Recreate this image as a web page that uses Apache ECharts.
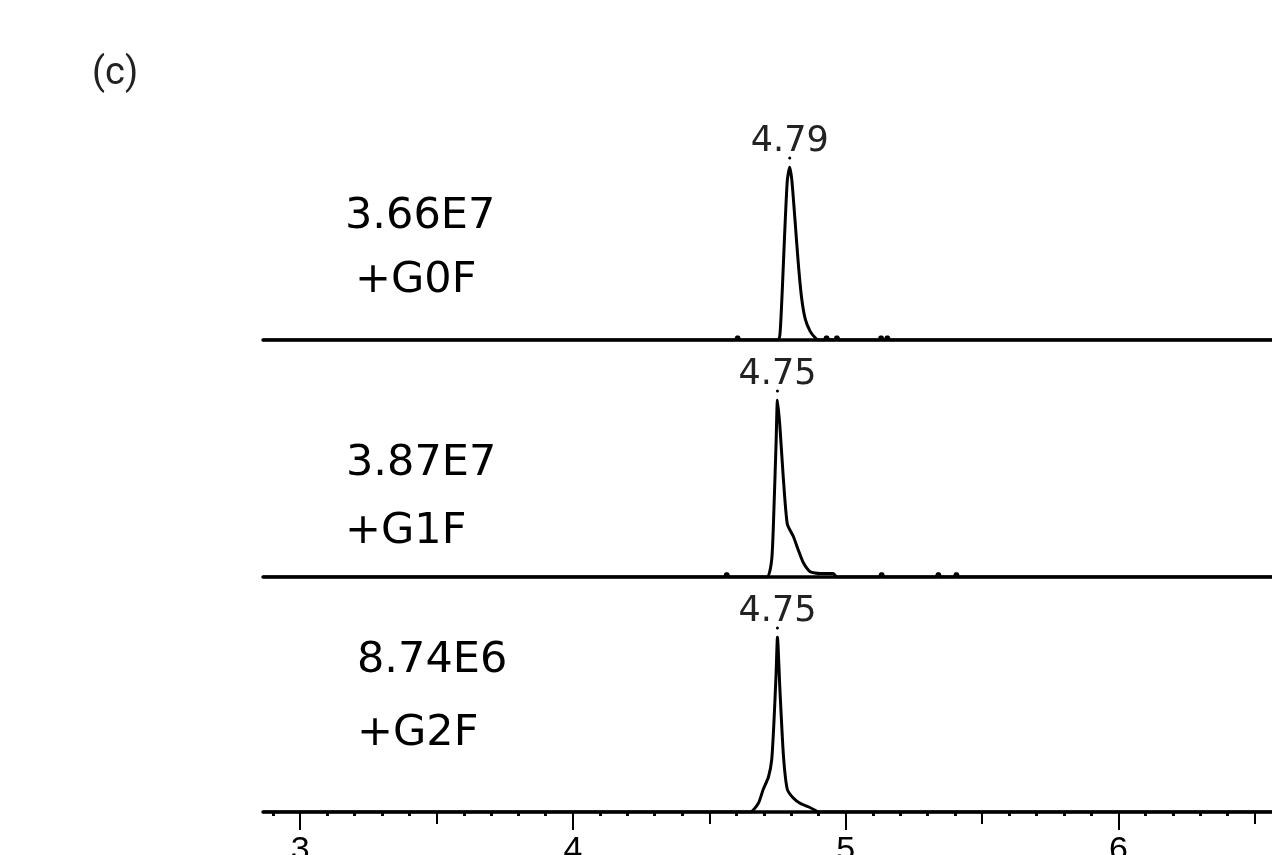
<!DOCTYPE html>
<html>
<head>
<meta charset="utf-8">
<script src="https://cdn.jsdelivr.net/npm/echarts@6/dist/echarts.min.js"></script>
<style>
  html, body { margin: 0; padding: 0; background: #fff; }
  #chart { width: 1272px; height: 855px; }
</style>
</head>
<body>
<div id="chart"></div>
<script>
// retention time (min) vs relative intensity (%) for each extracted ion trace
var g0f = [[2.864,0],[4.596,0],[4.600,1.8],[4.608,1.8],[4.612,0],[4.753,0],[4.760,5],[4.768,30],[4.776,60],[4.786,92],[4.795,100],[4.803,92],[4.814,70],[4.826,45],[4.838,25],[4.852,12],[4.870,5],[4.890,1],[4.900,0],[4.922,0],[4.926,1.8],[4.934,1.8],[4.938,0],[4.960,0],[4.964,1.8],[4.972,1.8],[4.976,0],[5.122,0],[5.126,1.8],[5.134,1.8],[5.138,0],[5.145,0],[5.149,1.8],[5.157,1.8],[5.161,0],[6.563,0]];
var g1f = [[2.864,0],[4.556,0],[4.560,1.8],[4.568,1.8],[4.572,0],[4.711,0],[4.729,10],[4.737,38],[4.745,76],[4.750,100],[4.759,85],[4.771,57],[4.786,30],[4.808,23],[4.827,15],[4.845,8],[4.870,3],[4.906,2],[4.954,2],[4.968,0],[5.124,0],[5.128,1.8],[5.136,1.8],[5.140,0],[5.332,0],[5.336,1.8],[5.344,1.8],[5.348,0],[5.398,0],[5.402,1.8],[5.410,1.8],[5.414,0],[6.563,0]];
var g2f = [[2.864,0],[4.650,0],[4.680,5],[4.698,13],[4.717,20],[4.729,30],[4.737,51],[4.745,79],[4.750,100],[4.759,70],[4.772,32],[4.786,13],[4.808,8],[4.833,5],[4.863,3],[4.888,1],[4.899,0],[6.563,0]];

var peakTimes = [4.795, 4.75, 4.75];
var peakLabels = ["4.79", "4.75", "4.75"];
var areas = ["3.66E7", "3.87E7", "8.74E6"];
var glycans = ["+G0F", "+G1F", "+G2F"];

var xLabelTicks = [3, 4, 5, 6];
var halfTicks = [3, 3.5, 4, 4.5, 5, 5.5, 6, 6.5];
var minorTicks = [2.9, 3.1, 3.2, 3.3, 3.4, 3.6, 3.7, 3.8, 3.9, 4.1, 4.2, 4.3, 4.4, 4.6, 4.7, 4.8, 4.9,
                  5.1, 5.2, 5.3, 5.4, 5.6, 5.7, 5.8, 5.9, 6.1, 6.2, 6.3, 6.4];

var xMin = 2.864, xMax = 6.563;
var traces = [g0f, g1f, g2f];

var chart = echarts.init(document.getElementById("chart"));

var grids = [
    { left: 263, right: 0, top: 167, height: 173, outerBoundsMode: "none" },
    { left: 263, right: 0, top: 400, height: 177, outerBoundsMode: "none" },
    { left: 263, right: 0, top: 637, height: 175, outerBoundsMode: "none" }
];

var xAxes = [];
var yAxes = [];
for (var i = 0; i < 3; i++) {
    xAxes.push({
        type: "value",
        gridIndex: i,
        min: xMin,
        max: xMax,
        axisLine: { show: true, onZero: false, lineStyle: { color: "#000", width: 3.5 } },
        axisTick: i === 2 ? { show: true, customValues: halfTicks, length: 12, lineStyle: { color: "#000", width: 2 } } : { show: false },
        axisLabel: { show: false },
        splitLine: { show: false }
    });
    yAxes.push({ type: "value", gridIndex: i, min: 0, max: 100, show: false });
}
// integer ticks with labels
xAxes.push({
    type: "value", gridIndex: 2, min: xMin, max: xMax, position: "bottom",
    axisLine: { show: false },
    axisTick: { show: true, customValues: xLabelTicks, length: 18, lineStyle: { color: "#000", width: 2 } },
    axisLabel: { show: true, customValues: xLabelTicks, margin: 22, color: "#000", fontSize: 34, fontFamily: "Liberation Sans" },
    splitLine: { show: false }
});
// minor ticks
xAxes.push({
    type: "value", gridIndex: 2, min: xMin, max: xMax, position: "bottom",
    axisLine: { show: false },
    axisTick: { show: true, customValues: minorTicks, length: 4, lineStyle: { color: "#000", width: 3 } },
    axisLabel: { show: false },
    splitLine: { show: false }
});

var series = traces.map(function (d, i) {
    return {
        type: "line",
        xAxisIndex: i,
        yAxisIndex: i,
        data: d,
        showSymbol: false,
        smooth: 0.2,
        lineStyle: { color: "#000", width: 3 },
        z: 3,
        markPoint: {
            symbol: "circle",
            symbolSize: 3,
            symbolOffset: [0, -9],
            itemStyle: { color: "#000" },
            label: {
                show: true,
                position: "top",
                distance: -3,
                color: "#222",
                fontSize: 35,
                fontFamily: "DejaVu Sans",
                formatter: peakLabels[i]
            },
            data: [{ coord: [peakTimes[i], 100] }]
        }
    };
});

var textPos = [
    [[345, 217], [355, 281]],
    [[346, 464], [345, 532]],
    [[357, 661], [357, 734]]
];
var graphics = [{
    type: "text",
    left: 92, top: 55,
    style: { text: "(c)", font: "38px Roboto", fill: "#222" }
}];
for (var k = 0; k < 3; k++) {
    graphics.push({
        type: "text", x: textPos[k][0][0], y: textPos[k][0][1],
        style: { text: areas[k], font: "43px 'DejaVu Sans'", fill: "#000", verticalAlign: "middle" }
    });
    graphics.push({
        type: "text", x: textPos[k][1][0], y: textPos[k][1][1],
        style: { text: glycans[k], font: "43px 'DejaVu Sans'", fill: "#000", verticalAlign: "middle" }
    });
}

chart.setOption({
    backgroundColor: "#fff",
    animation: false,
    grid: grids,
    xAxis: xAxes,
    yAxis: yAxes,
    series: series,
    graphic: graphics
});
</script>
</body>
</html>
